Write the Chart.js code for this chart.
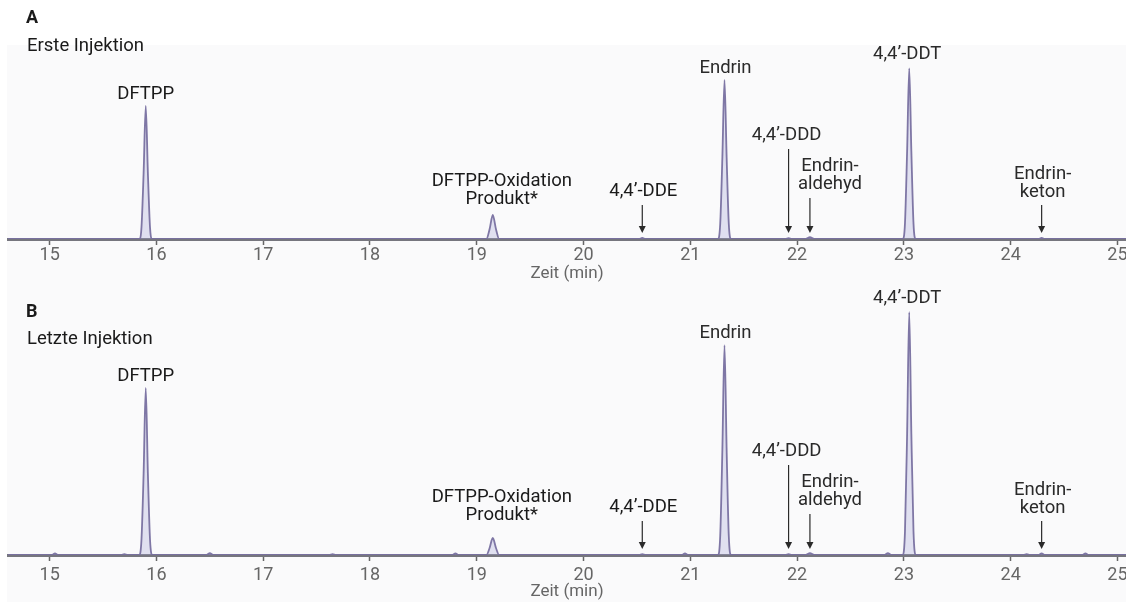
<!DOCTYPE html>
<html><head><meta charset="utf-8">
<script src="https://cdn.jsdelivr.net/npm/chart.js@4.4.1/dist/chart.umd.min.js"></script>
<style>
html,body{margin:0;padding:0;background:#fff;}
#wrap{position:relative;width:1126px;height:602px;overflow:hidden;background:#fff;}
.pane{position:absolute;left:0;width:1126px;}
</style></head><body>
<div id="wrap">
<div class="pane" style="top:0;height:285px"><canvas id="cA" width="1126" height="285"></canvas></div>
<div class="pane" style="top:285px;height:317px"><canvas id="cB" width="1126" height="317"></canvas></div>
</div>
<script>
// ---------- data ----------
const xTickValues = [15, 16, 17, 18, 19, 20, 21, 22, 23, 24, 25];
const xAxisTitle = 'Zeit (min)';
const panelLetters = ['A', 'B'];
const panelTitles = ['Erste Injektion', 'Letzte Injektion'];

const peakNames = [
  ['DFTPP'],
  ['DFTPP-Oxidation', 'Produkt*'],
  ['4,4\u2019-DDE'],
  ['Endrin'],
  ['4,4\u2019-DDD'],
  ['Endrin-', 'aldehyd'],
  ['4,4\u2019-DDT'],
  ['Endrin-', 'keton']
];
const retentionTimes = [15.90, 19.15, 20.55, 21.32, 21.92, 22.12, 23.05, 24.29];

// chromatogram A (first injection): [time (min), signal]
const traceA = [
  [14.60, 0], [15.84, 0], [15.86, 6], [15.88, 34], [15.90, 68.6], [15.92, 34], [15.94, 6], [15.96, 0],
  [19.09, 0], [19.12, 5], [19.15, 12.4], [19.18, 5], [19.21, 0],
  [20.52, 0], [20.55, 0.6], [20.58, 0],
  [21.26, 0], [21.28, 8], [21.30, 42], [21.32, 82], [21.34, 42], [21.36, 8], [21.38, 0],
  [21.89, 0], [21.92, 0.4], [21.95, 0],
  [22.08, 0], [22.12, 0.9], [22.16, 0],
  [22.99, 0], [23.01, 8], [23.03, 45], [23.05, 88], [23.07, 45], [23.09, 8], [23.11, 0],
  [24.26, 0], [24.29, 0.6], [24.32, 0],
  [25.10, 0]
];
// chromatogram B (last injection)
const traceB = [
  [14.60, 0], [15.02, 0], [15.05, 0.8], [15.08, 0],
  [15.67, 0], [15.70, 0.4], [15.73, 0],
  [15.84, 0], [15.86, 8], [15.88, 42], [15.90, 86], [15.92, 42], [15.94, 8], [15.96, 0],
  [16.47, 0], [16.50, 1.0], [16.53, 0],
  [17.62, 0], [17.65, 0.5], [17.68, 0],
  [18.77, 0], [18.80, 0.8], [18.83, 0],
  [19.09, 0], [19.12, 3.6], [19.15, 8.8], [19.18, 3.6], [19.21, 0],
  [20.52, 0], [20.55, 0.5], [20.58, 0],
  [20.92, 0], [20.95, 0.8], [20.98, 0],
  [21.26, 0], [21.28, 10], [21.30, 54], [21.32, 108], [21.34, 54], [21.36, 10], [21.38, 0],
  [21.89, 0], [21.92, 0.4], [21.95, 0],
  [22.08, 0], [22.12, 1.0], [22.16, 0],
  [22.82, 0], [22.85, 1.0], [22.88, 0],
  [22.99, 0], [23.01, 12], [23.03, 62], [23.05, 125], [23.07, 62], [23.09, 12], [23.11, 0],
  [24.12, 0], [24.15, 0.4], [24.18, 0],
  [24.26, 0], [24.29, 0.8], [24.32, 0],
  [24.67, 0], [24.70, 0.8], [24.73, 0],
  [25.10, 0]
];

// ---------- layout / style (pixels) ----------
// label placement: 'apex' = above peak apex; 'fixed' = above baseline; 'arrow' = above baseline with arrow
const labelStyle = [
  {type: 'apex', dx: 0, gap: 12},
  {type: 'fixed', dx: 9, lastLine: 39.5},
  {type: 'arrow', dx: 1, lastLine: 48, tail: 34},
  {type: 'apex', dx: 1, gap: 12},
  {type: 'arrow', dx: -2, lastLine: 104, tail: 90},
  {type: 'arrow', dx: 20, lastLine: 55, tail: 41},
  {type: 'apex', dx: -2, gap: 14},
  {type: 'arrow', dx: 1, lastLine: 47, tail: 34}
];
const panelLayout = [
  {padTop: 45, axisH: 46, yMax: 100, tickPad: 0, titlePadBottom: 1, letterY: 18, titleY: 46, bg: true},
  {padTop: 0, axisH: 47, yMax: 139, tickPad: 4, titlePadBottom: 0, letterY: 27, titleY: 54, bg: false}
];
const FONT = 'Roboto, "Noto Sans", sans-serif';

function toPoints(trace) { return trace.map(p => ({x: p[0], y: p[1]})); }

function apexValue(trace, rt) {
  let m = 0;
  trace.forEach(p => { if (Math.abs(p[0] - rt) < 0.06 && p[1] > m) m = p[1]; });
  return m;
}

function makePlugin(idx, trace) {
  const lay = panelLayout[idx];
  return {
    id: 'deco' + idx,
    beforeDraw(chart) {
      const c = chart.ctx;
      c.save();
      c.fillStyle = '#fafafb';
      c.fillRect(7, lay.bg ? lay.padTop : 0, chart.width - 7, chart.height);
      c.restore();
    },
    afterDraw(chart) {
      const c = chart.ctx;
      const xs = chart.scales.x, ys = chart.scales.y;
      const base = ys.getPixelForValue(0);
      c.save();
      // panel letter & title
      c.textAlign = 'left';
      c.textBaseline = 'middle';
      c.fillStyle = '#1a1a1a';
      c.font = 'bold 18px ' + FONT;
      c.fillText(panelLetters[idx], 26, lay.letterY);
      c.font = '18.5px ' + FONT;
      c.fillText(panelTitles[idx], 27, lay.titleY);
      // peak labels
      c.textAlign = 'center';
      c.font = '18.5px ' + FONT;
      const lh = 18;
      peakNames.forEach((lines, i) => {
        const st = labelStyle[i];
        const px = xs.getPixelForValue(retentionTimes[i]);
        let lastY;
        if (st.type === 'apex') {
          lastY = ys.getPixelForValue(apexValue(trace, retentionTimes[i])) - st.gap;
        } else {
          lastY = base - st.lastLine;
        }
        lines.forEach((t, k) => {
          c.fillText(t, px + st.dx, lastY - (lines.length - 1 - k) * lh);
        });
        if (st.type === 'arrow') {
          const y1 = base - st.tail, y2 = base - 6;
          c.strokeStyle = '#2a2a2a';
          c.lineWidth = 1.2;
          c.beginPath();
          c.moveTo(px, y1);
          c.lineTo(px, y2 - 5);
          c.stroke();
          c.fillStyle = '#2a2a2a';
          c.beginPath();
          c.moveTo(px - 3.5, y2 - 7);
          c.lineTo(px + 3.5, y2 - 7);
          c.lineTo(px, y2);
          c.closePath();
          c.fill();
        }
      });
      c.restore();
    }
  };
}

function makeChart(canvasId, idx, trace) {
  const lay = panelLayout[idx];
  return new Chart(document.getElementById(canvasId), {
    type: 'line',
    data: {
      datasets: [{
        data: toPoints(trace),
        borderColor: 'rgba(120,112,160,0.95)',
        backgroundColor: 'rgba(165,165,215,0.3)',
        fill: 'origin',
        borderWidth: 1.8,
        pointRadius: 0,
        cubicInterpolationMode: 'monotone'
      }]
    },
    options: {
      responsive: false,
      animation: false,
      events: [],
      layout: {padding: {top: lay.padTop, left: 8, right: 0, bottom: 0}},
      plugins: {legend: {display: false}, tooltip: {enabled: false}, title: {display: false}},
      scales: {
        x: {
          type: 'linear',
          min: 14.61,
          max: 25.08,
          z: 1,
          afterBuildTicks: s => { s.ticks = xTickValues.map(v => ({value: v})); },
          afterFit: s => { s.height = lay.axisH; s.paddingLeft = 0; s.paddingRight = 0; },
          ticks: {
            includeBounds: false,
            stepSize: 1,
            color: '#666',
            padding: lay.tickPad,
            maxRotation: 0,
            autoSkip: false,
            font: {family: FONT, size: 18}
          },
          grid: {display: true, drawOnChartArea: false, drawTicks: true, tickLength: 6, tickColor: '#666', tickWidth: 1.5},
          border: {display: true, color: '#76767e', width: 3},
          title: {display: true, text: xAxisTitle, color: '#666', font: {family: FONT, size: 17},
                  padding: {top: 0, bottom: lay.titlePadBottom}}
        },
        y: {display: false, min: 0, max: lay.yMax}
      }
    },
    plugins: [makePlugin(idx, trace)]
  });
}

makeChart('cA', 0, traceA);
makeChart('cB', 1, traceB);
</script>
</body></html>
